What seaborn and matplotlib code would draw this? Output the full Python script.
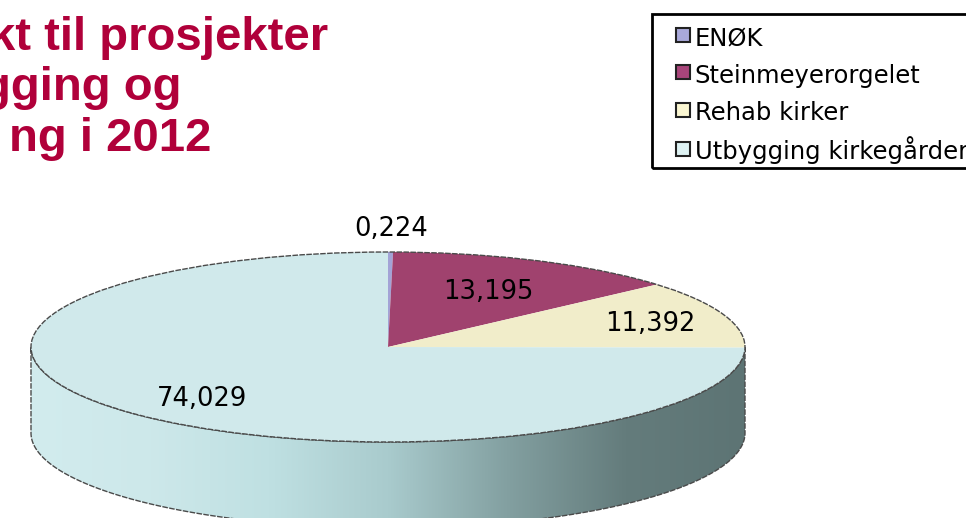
import numpy as np
import matplotlib
matplotlib.use("Agg")
import matplotlib.pyplot as plt
from matplotlib.patches import Polygon, Ellipse, Rectangle
from matplotlib.lines import Line2D
from matplotlib.colors import LinearSegmentedColormap
from matplotlib.transforms import Affine2D
import seaborn as sns

# Data
categories = ["ENØK", "Steinmeyerorgelet", "Rehab kirker", "Utbygging kirkegårder"]
values = [0.224, 13.195, 11.392, 74.029]
title_lines = ["kt til prosjekter", "gging og", "ng i 2012"]

slice_colors = ["#a3a3d6", "#a0426e", "#f1edca", "#d0e9eb"]
legend_colors = ["#a9a9da", "#a8457a", "#fbf7d2", "#def2f3"]

sns.set_style("white")
plt.rcParams["font.family"] = ["DejaVu Sans"]
plt.rcParams["text.color"] = "black"

W, H = 966, 518
fig = plt.figure(figsize=(W / 100, H / 100), dpi=100)
ax = fig.add_axes([0, 0, 1, 1])

# 3d look: unit pie squashed vertically, plus a side wall
squash = 95 / 357
depth = 86 / 357

wedges, _ = ax.pie(values, colors=slice_colors, startangle=90, counterclock=False,
                   wedgeprops=dict(linewidth=0))
flat = Affine2D().scale(1, squash) + ax.transData
for w in wedges:
    w.set_transform(flat)
    w.set_zorder(3)

# side wall (front half belongs to the big slice)
t = np.linspace(np.pi, 2 * np.pi, 300)
top_edge = np.column_stack([np.cos(t), squash * np.sin(t)])
bot_edge = np.column_stack([np.cos(t[::-1]), squash * np.sin(t[::-1]) - depth])
side = Polygon(np.vstack([top_edge, bot_edge]), closed=True, facecolor="none",
               edgecolor="#4a4a4a", linewidth=1.0, linestyle=(0, (4, 1)), zorder=2)
ax.add_patch(side)
side_cmap = LinearSegmentedColormap.from_list(
    "side", ["#d2ecee", "#cde8ea", "#bfe0e2", "#a9cbcd", "#83a0a1", "#647c7c", "#5d7474"])
grad = np.linspace(0, 1, 256).reshape(1, -1)
im = ax.imshow(grad, cmap=side_cmap, extent=(-1, 1, -squash - depth, 0.01),
               aspect="auto", zorder=1.5)
im.set_clip_path(side)

ax.add_patch(Ellipse((0, 0), 2, 2 * squash, fill=False, edgecolor="#4a4a4a",
                     linewidth=1.0, linestyle=(0, (4, 1)), zorder=4))

# value labels
label_radius = [1.27, 0.67, 0.785, 0.735]
total = sum(values)
start = 90.0
for v, r in zip(values, label_radius):
    span = v / total * 360
    mid = np.deg2rad(start - span / 2)
    start -= span
    ax.text(r * np.cos(mid), r * squash * np.sin(mid), f"{v:.3f}".replace(".", ","),
            ha="center", va="center_baseline", fontsize=18.5, color="black", zorder=5)

ax.set_aspect("auto")
ax.set_xlim(-388 / 357, (W - 388) / 357)
ax.set_ylim((347 - H) / 357, 347 / 357)
ax.axis("off")

# title (cropped on the left in the source)
title_font = ["Liberation Sans", "DejaVu Sans"]
for line, xr, yb in zip(title_lines, [328, 181, 211], [50, 100, 151]):
    fig.text(xr / W, 1 - yb / H, line, ha="right", va="baseline", fontsize=34,
             fontweight="bold", color="#b0003a", family=title_font)

# legend box runs past the right edge in the source
fig.patches.append(Rectangle((652 / W, 1 - 168 / H), 0.5, 154 / H, fill=False,
                             edgecolor="black", linewidth=2, transform=fig.transFigure))
handles = [Line2D([], [], linestyle="none", marker="s", markersize=9.5,
                  markerfacecolor=c, markeredgecolor="#222222", markeredgewidth=1.5)
           for c in legend_colors]
leg = fig.legend(handles, categories, loc="upper left",
                 bbox_to_anchor=(674 / W, 1 - 24 / H), borderaxespad=0, borderpad=0,
                 fontsize=17.5, handlelength=0.7, handleheight=1.3, handletextpad=0.15,
                 labelspacing=0.45, frameon=False)
for txt in leg.get_texts():
    txt.set_color("black")

fig.savefig("out.png", dpi=100)
